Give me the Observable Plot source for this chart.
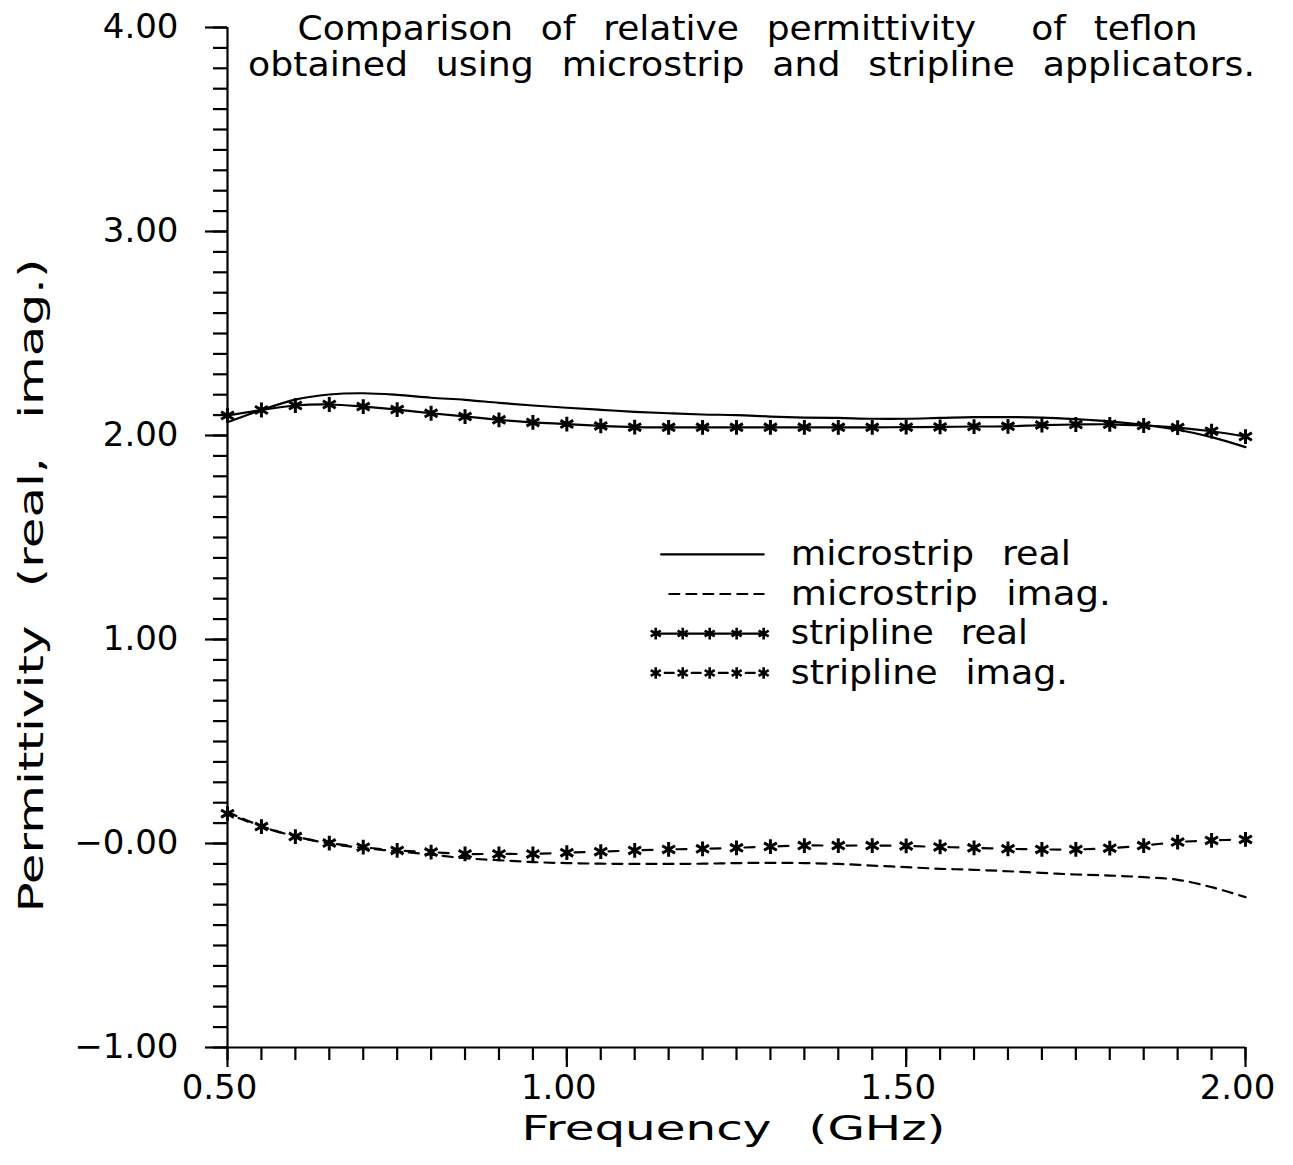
<!DOCTYPE html>
<html>
<head>
<meta charset="utf-8">
<script src="https://cdn.jsdelivr.net/npm/d3@7"></script>
<script src="https://cdn.jsdelivr.net/npm/@observablehq/plot@0.6"></script>
<style>
  html, body { margin: 0; padding: 0; background: #ffffff; overflow: hidden; }
  svg { display: block; }
  svg text { white-space: pre; word-spacing: 0.45em; }
</style>
</head>
<body>
<script>
// ---------------- data ----------------
const freq = [0.50, 0.55, 0.60, 0.65, 0.70, 0.75, 0.80, 0.85, 0.90, 0.95,
              1.00, 1.05, 1.10, 1.15, 1.20, 1.25, 1.30, 1.35, 1.40, 1.45,
              1.50, 1.55, 1.60, 1.65, 1.70, 1.75, 1.80, 1.85, 1.90, 1.95, 2.00];

const microstripReal = [2.065, 2.125, 2.176, 2.201, 2.207, 2.199, 2.185, 2.175, 2.160, 2.147,
                        2.136, 2.126, 2.116, 2.109, 2.103, 2.100, 2.093, 2.088, 2.086, 2.082,
                        2.082, 2.086, 2.090, 2.090, 2.088, 2.080, 2.069, 2.052, 2.028, 1.992, 1.943];

const microstripImag = [0.155, 0.085, 0.035, 0.000, -0.022, -0.038, -0.055, -0.072, -0.082, -0.091,
                        -0.096, -0.099, -0.100, -0.100, -0.099, -0.096, -0.095, -0.096, -0.100, -0.108,
                        -0.116, -0.124, -0.129, -0.136, -0.144, -0.152, -0.157, -0.165, -0.178, -0.214, -0.263];

const striplineReal = [2.098, 2.125, 2.147, 2.152, 2.142, 2.127, 2.109, 2.093, 2.077, 2.064,
                       2.056, 2.047, 2.041, 2.040, 2.040, 2.040, 2.040, 2.040, 2.040, 2.040,
                       2.041, 2.042, 2.044, 2.045, 2.051, 2.054, 2.055, 2.049, 2.039, 2.021, 1.995];

const striplineImag = [0.146, 0.083, 0.034, 0.002, -0.018, -0.034, -0.042, -0.051, -0.051, -0.051,
                       -0.045, -0.040, -0.034, -0.029, -0.026, -0.021, -0.015, -0.010, -0.010, -0.010,
                       -0.012, -0.017, -0.021, -0.026, -0.029, -0.029, -0.023, -0.010, 0.007, 0.015, 0.020];

const xDomain = [0.5, 2.0];
const yDomain = [-1, 4];
const xMajorTicks = [0.5, 1.0, 1.5, 2.0];
const xTickLabels = ["0.50", "1.00", "1.50", "2.00"];
const xMinorTicks = d3.range(10, 41).map(i => i / 20);
const yMajorTicks = [-1, 0, 1, 2, 3, 4];
const yTickLabels = ["\u22121.00", "\u22120.00", "1.00", "2.00", "3.00", "4.00"];
const yMinorTicks = d3.range(-10, 41).map(i => i / 10);

const titleLines = ["Comparison of relative permittivity  of teflon",
                    "obtained using microstrip and stripline applicators."];
const xLabel = "Frequency (GHz)";
const yLabel = "Permittivity (real, imag.)";
const legendLabels = ["microstrip real", "microstrip imag.", "stripline real", "stripline imag."];

// ---------------- layout constants ----------------
const W = 1293, H = 1165;
const legendRowY = [1.417, 1.223, 1.029, 0.836];  // legend rows, in data units
const legendX0 = 1.131, legendX1 = 1.290, legendTextX = 1.330;
const textWidths = new Map([
  [titleLines[0], 900], [titleLines[1], 1007],
  [xLabel, 424], [yLabel, 654],
  [legendLabels[0], 280], [legendLabels[1], 320],
  [legendLabels[2], 237], [legendLabels[3], 277]
]);

// ---------------- tables ----------------
const rows = freq.map((f, i) => ({f, mr: microstripReal[i], mi: microstripImag[i], sr: striplineReal[i], si: striplineImag[i]}));
const legendRows = legendLabels.map((label, i) => ({label, y: legendRowY[i]}));
const seg = (i, from) => [{x: from, y: legendRowY[i]}, {x: legendX1, y: legendRowY[i]}];
const legendStars = (i) => d3.range(5).map(k => ({x: legendX0 + k * (legendX1 - legendX0) / 4, y: legendRowY[i]}));

const sw = 2.2;
const fs = 34;

const svg = Plot.plot({
  width: W, height: H,
  marginLeft: 227, marginRight: 48, marginTop: 27, marginBottom: 118,
  x: {domain: xDomain, label: null},
  y: {domain: yDomain, label: null},
  style: {fontFamily: "'DejaVu Sans', sans-serif", fontSize: "34px", background: "white", color: "black", overflow: "visible"},
  marks: [
    // axes
    Plot.axisY({ticks: yMinorTicks, tickSize: 14, fill: "none", label: null, strokeWidth: sw}),
    Plot.axisY({ticks: yMajorTicks, tickSize: 22, tickPadding: 27, fontSize: fs, label: null, strokeWidth: sw,
                tickFormat: d => yTickLabels[yMajorTicks.indexOf(d)]}),
    Plot.axisX({ticks: xMinorTicks, tickSize: 13, fill: "none", label: null, strokeWidth: sw}),
    Plot.axisX({ticks: xMajorTicks, tickSize: 20, fill: "none", label: null, strokeWidth: sw}),
    Plot.axisX({ticks: xMajorTicks, tickSize: 0, tickPadding: 27, dx: -8, fontSize: fs, label: null,
                tickFormat: d => xTickLabels[xMajorTicks.indexOf(d)]}),
    Plot.ruleX([xDomain[0]], {strokeWidth: sw}),
    Plot.ruleY([yDomain[0]], {strokeWidth: sw}),

    // series
    Plot.line(rows, {x: "f", y: "mr", curve: "catmull-rom", stroke: "black", strokeWidth: sw}),
    Plot.line(rows, {x: "f", y: "mi", curve: "catmull-rom", stroke: "black", strokeWidth: sw, strokeDasharray: "10,7"}),
    Plot.line(rows, {x: "f", y: "sr", curve: "catmull-rom", stroke: "black", strokeWidth: sw}),
    Plot.dot(rows, {x: "f", y: "sr", symbol: "asterisk", r: 7, stroke: "black", strokeWidth: 3}),
    Plot.line(rows, {x: "f", y: "si", curve: "catmull-rom", stroke: "black", strokeWidth: sw, strokeDasharray: "10,24", strokeDashoffset: 22}),
    Plot.dot(rows, {x: "f", y: "si", symbol: "asterisk", r: 7, stroke: "black", strokeWidth: 3}),

    // legend samples
    Plot.line(seg(0, legendX0 + 0.008), {x: "x", y: "y", stroke: "black", strokeWidth: sw}),
    Plot.line(seg(1, legendX0 + 0.02), {x: "x", y: "y", stroke: "black", strokeWidth: sw, strokeDasharray: "10,7"}),
    Plot.line(seg(2, legendX0), {x: "x", y: "y", stroke: "black", strokeWidth: sw}),
    Plot.dot(legendStars(2), {x: "x", y: "y", symbol: "asterisk", r: 5.5, stroke: "black", strokeWidth: 2.6}),
    Plot.line(seg(3, legendX0), {x: "x", y: "y", stroke: "black", strokeWidth: sw, strokeDasharray: "9,18", strokeDashoffset: 18}),
    Plot.dot(legendStars(3), {x: "x", y: "y", symbol: "asterisk", r: 5.5, stroke: "black", strokeWidth: 2.6}),
    Plot.text(legendRows, {x: () => legendTextX, y: "y", text: "label", textAnchor: "start", lineAnchor: "middle", fontSize: fs, fill: "black"}),

    // titles
    Plot.text([titleLines[0]], {text: d => d, frameAnchor: "top", lineAnchor: "middle", dx: 11, dy: 2, fontSize: fs, fill: "black"}),
    Plot.text([titleLines[1]], {text: d => d, frameAnchor: "top", lineAnchor: "middle", dx: 15, dy: 38, fontSize: fs, fill: "black"}),
    Plot.text([xLabel], {text: d => d, frameAnchor: "bottom", lineAnchor: "middle", dx: -3, dy: 82, fontSize: fs, fill: "black"}),
    Plot.text([yLabel], {text: d => d, frameAnchor: "left", rotate: -90, textAnchor: "middle", lineAnchor: "middle", dx: -195, dy: 48, fontSize: fs, fill: "black"})
  ]
});

document.body.append(svg);
d3.select(svg).selectAll("text").each(function () {
  const w = textWidths.get(this.textContent);
  if (w) {
    this.setAttribute("textLength", w);
    this.setAttribute("lengthAdjust", "spacingAndGlyphs");
  }
});
</script>
</body>
</html>
